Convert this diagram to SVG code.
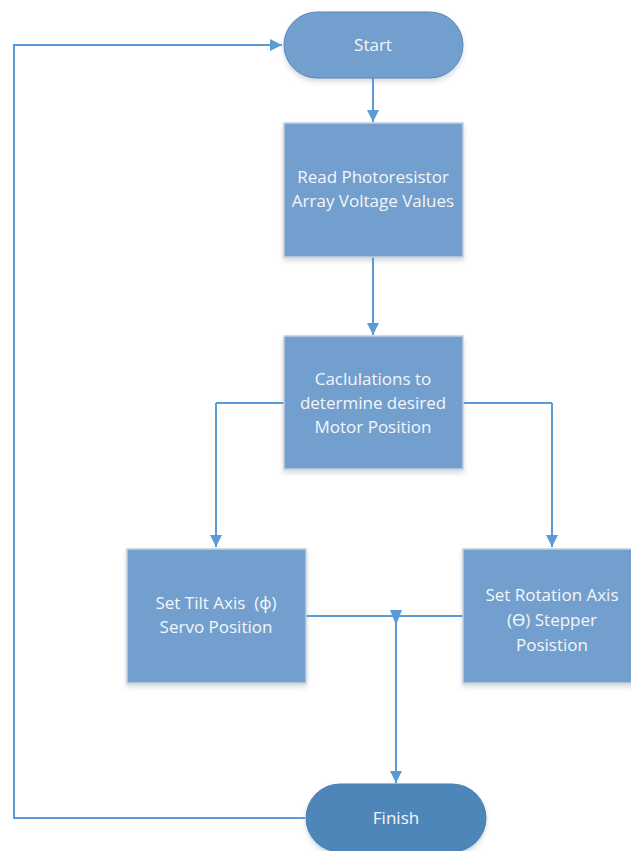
<svg xmlns="http://www.w3.org/2000/svg" width="631" height="851" viewBox="0 0 631 851">
<defs>
<marker id="arr" viewBox="0 0 10 10" refX="10" refY="5" markerWidth="6" markerHeight="6" orient="auto" markerUnits="strokeWidth">
<path d="M0,0 L10,5 L0,10 z" fill="#5b9bd5"/>
</marker>
<filter id="sh" x="-10%" y="-10%" width="125%" height="130%">
<feDropShadow dx="0" dy="3" stdDeviation="2.5" flood-color="#7a8fa8" flood-opacity="0.35"/>
</filter>
</defs>
<style>
.box{fill:#729fcd;stroke:#c5cfdb;stroke-width:1.5;filter:url(#sh)}
.term{fill:#729fcd;stroke:#5a86b5;stroke-width:1;filter:url(#sh)}
.fin{fill:#4f86b9;stroke:#4a7fb0;stroke-width:1;filter:url(#sh)}
.t{font-family:"Open Sans","Noto Sans",sans-serif;font-size:17px;fill:#f4f6f9;text-anchor:middle;white-space:pre}
.c{fill:none;stroke:#5b9bd5;stroke-width:2;marker-end:url(#arr)}
.n{fill:none;stroke:#5b9bd5;stroke-width:2}
</style>
<g id="connectors">
<path class="c" d="M373,78 L373,122"/>
<path class="c" d="M373,257 L373,335"/>
<path class="n" d="M284,403 L216,403"/>
<path class="c" d="M216,403 L216,547"/>
<path class="n" d="M463,403 L552,403"/>
<path class="c" d="M552,403 L552,547"/>
<path class="n" d="M306,616 L463,616"/>
<path d="M390,610 L402,610 L396,625 z" fill="#5b9bd5"/>
<path class="c" d="M396,616 L396,783"/>
<path class="c" d="M305,818 L14,818 L14,45 L282,45"/>
</g>
<g id="start">
<rect class="term" x="284" y="12" width="179" height="66" rx="33" ry="33"/>
<text class="t" x="373" y="51">Start</text>
</g>
<g id="read">
<rect class="box" x="284" y="123" width="179" height="134"/>
<text class="t" x="373" y="183">Read Photoresistor</text>
<text class="t" x="373" y="207">Array Voltage Values</text>
</g>
<g id="calc">
<rect class="box" x="284" y="336" width="179" height="133"/>
<text class="t" x="373" y="385">Caclulations to</text>
<text class="t" x="373" y="409">determine desired</text>
<text class="t" x="373" y="433">Motor Position</text>
</g>
<g id="tilt">
<rect class="box" x="127" y="549" width="179" height="134"/>
<text class="t" x="216" y="609" xml:space="preserve">Set Tilt Axis  (ϕ)</text>
<text class="t" x="216" y="633">Servo Position</text>
</g>
<g id="rotation">
<rect class="box" x="463" y="549" width="179" height="134"/>
<text class="t" x="552" y="601">Set Rotation Axis</text>
<text class="t" x="552" y="626">(ϴ) Stepper</text>
<text class="t" x="552" y="651">Posistion</text>
</g>
<g id="finish">
<rect class="fin" x="306" y="784" width="180" height="68" rx="34" ry="34"/>
<text class="t" x="396" y="824">Finish</text>
</g>
</svg>
